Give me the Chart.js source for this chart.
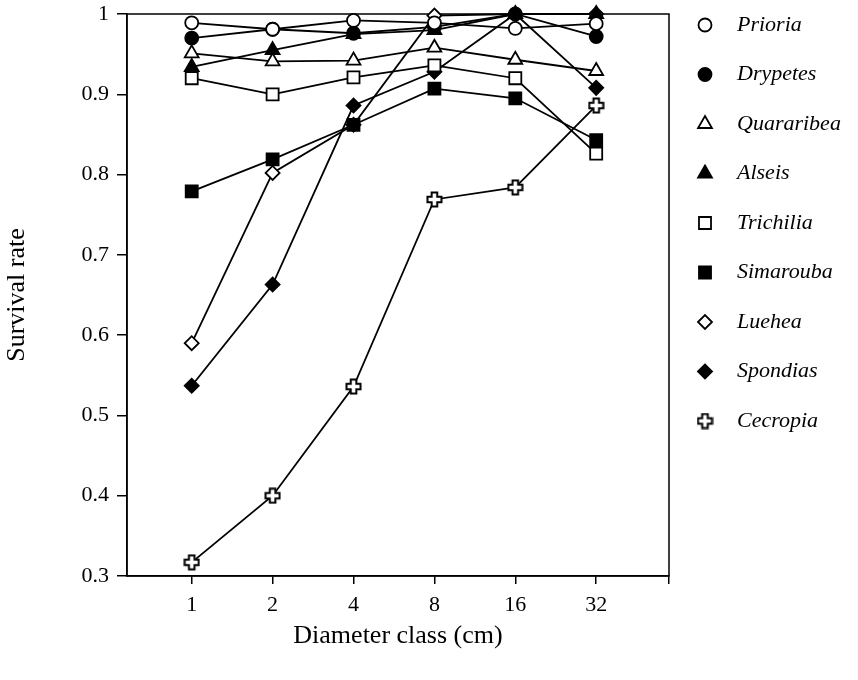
<!DOCTYPE html>
<html lang="en">
<head>
<meta charset="UTF-8">
<title>Survival rate by diameter class</title>
<script src="https://cdn.jsdelivr.net/npm/chart.js"></script>
<style>
  body { margin: 0; background: #fff; }
  #wrap { width: 858px; height: 680px; }
</style>
</head>
<body>
<div id="wrap"><canvas id="survivalChart" width="858" height="680"></canvas></div>
<script>
// diameter classes (cm) and y ticks
const diameterClasses = ['1', '2', '4', '8', '16', '32'];
const yTickValues = [0.3, 0.4, 0.5, 0.6, 0.7, 0.8, 0.9, 1];
const yTickLabels = ['0.3', '0.4', '0.5', '0.6', '0.7', '0.8', '0.9', '1'];

// survival rate per species, one value per diameter class
const speciesNames = ['Prioria', 'Drypetes', 'Quararibea', 'Alseis', 'Trichilia',
                      'Simarouba', 'Luehea', 'Spondias', 'Cecropia'];
const prioria    = [0.989, 0.981, 0.992, 0.989, 0.982, 0.988];
const drypetes   = [0.970, 0.981, 0.976, 0.984, 1.000, 0.972];
const quararibea = [0.951, 0.941, 0.942, 0.958, 0.943, 0.929];
const alseis     = [0.934, 0.955, 0.975, 0.980, 1.000, 1.000];
const trichilia  = [0.920, 0.900, 0.921, 0.936, 0.920, 0.826];
const simarouba  = [0.779, 0.819, 0.862, 0.907, 0.895, 0.843];
const luehea     = [0.590, 0.802, 0.862, 0.998, 1.000, 1.000];
const spondias   = [0.537, 0.663, 0.886, 0.928, 1.000, 0.908];
const cecropia   = [0.317, 0.400, 0.536, 0.769, 0.784, 0.886];

const seriesValues = [prioria, drypetes, quararibea, alseis, trichilia,
                      simarouba, luehea, spondias, cecropia];

// open "plus" marker used for Cecropia
function makeCross() {
    const c = document.createElement('canvas');
    c.width = 17; c.height = 17;
    const g = c.getContext('2d');
    const m = 8.5, a = 2.8, l = 7;
    g.beginPath();
    g.moveTo(m - a, m - l); g.lineTo(m + a, m - l); g.lineTo(m + a, m - a);
    g.lineTo(m + l, m - a); g.lineTo(m + l, m + a); g.lineTo(m + a, m + a);
    g.lineTo(m + a, m + l); g.lineTo(m - a, m + l); g.lineTo(m - a, m + a);
    g.lineTo(m - l, m + a); g.lineTo(m - l, m - a); g.lineTo(m - a, m - a);
    g.closePath();
    g.fillStyle = '#fff';
    g.fill();
    g.lineWidth = 2;
    g.strokeStyle = '#000';
    g.stroke();
    return c;
}

const markers = [
    { style: 'circle',   radius: 6.5, fill: '#fff' },
    { style: 'circle',   radius: 6.5, fill: '#000' },
    { style: 'triangle', radius: 8,   fill: '#fff' },
    { style: 'triangle', radius: 8,   fill: '#000' },
    { style: 'rect',     radius: 8.5, fill: '#fff' },
    { style: 'rect',     radius: 8.5, fill: '#000' },
    { style: 'rectRot',  radius: 7,   fill: '#fff' },
    { style: 'rectRot',  radius: 7,   fill: '#000' },
    { style: makeCross(), radius: 8,  fill: '#fff' }
];

const datasets = speciesNames.map((name, i) => ({
    label: name,
    data: seriesValues[i].map((v, j) => ({ x: j, y: v })),
    borderColor: '#000',
    borderWidth: 1.8,
    fill: false,
    tension: 0,
    clip: false,
    pointStyle: markers[i].style,
    pointRadius: markers[i].radius,
    pointHoverRadius: markers[i].radius,
    pointBackgroundColor: markers[i].fill,
    pointBorderColor: '#000',
    pointBorderWidth: 1.8
}));

// closes the plot box on top and right
const frame = {
    id: 'frame',
    beforeDatasetsDraw(chart) {
        const { ctx, chartArea: a } = chart;
        ctx.save();
        ctx.strokeStyle = '#000';
        ctx.lineWidth = 1.5;
        ctx.strokeRect(a.left, a.top, a.right - a.left, a.bottom - a.top);
        ctx.restore();
    }
};

// species key on the right
const speciesKey = {
    id: 'speciesKey',
    afterDraw(chart) {
        const ctx = chart.ctx;
        chart.data.datasets.forEach((ds, i) => {
            const y = 25 + i * 49.5;
            ctx.save();
            ctx.fillStyle = ds.pointBackgroundColor;
            ctx.strokeStyle = '#000';
            ctx.lineWidth = ds.pointBorderWidth;
            Chart.helpers.drawPoint(ctx, {
                pointStyle: ds.pointStyle, radius: ds.pointRadius,
                rotation: 0, borderWidth: ds.pointBorderWidth
            }, 705, y);
            ctx.fillStyle = '#000';
            ctx.font = 'italic 22px "Liberation Serif"';
            ctx.textBaseline = 'middle';
            ctx.fillText(ds.label, 737, y);
            ctx.restore();
        });
    }
};

const serif = '"Liberation Serif", "DejaVu Serif", serif';

new Chart(document.getElementById('survivalChart'), {
    type: 'line',
    data: { datasets },
    options: {
        responsive: false,
        animation: false,
        layout: { padding: { top: 14, right: 189, left: 0, bottom: 0 } },
        plugins: { legend: { display: false }, tooltip: { enabled: false } },
        scales: {
            x: {
                type: 'linear',
                min: -0.8,
                max: 5.9,
                afterBuildTicks: s => {
                    s.ticks = diameterClasses.map((_, i) => ({ value: i })).concat([{ value: 5.9 }]);
                },
                afterFit: s => { s.height = 104; s.paddingLeft = 0; s.paddingRight = 0; },
                ticks: {
                    autoSkip: false,
                    color: '#000',
                    padding: 8,
                    font: { family: serif, size: 22 },
                    callback: (v, i) => diameterClasses[i] ?? ''
                },
                grid: { drawOnChartArea: false, drawTicks: true, tickLength: 8, color: '#000', lineWidth: 1.5 },
                border: { display: true, color: '#000', width: 1.5 },
                title: {
                    display: true,
                    text: 'Diameter class (cm)',
                    color: '#000',
                    font: { family: serif, size: 26 },
                    padding: { top: 0, bottom: 28 }
                }
            },
            y: {
                min: 0.3,
                max: 1,
                afterBuildTicks: s => { s.ticks = yTickValues.map(v => ({ value: v })); },
                afterFit: s => { s.width = 127; s.paddingTop = 0; s.paddingBottom = 0; },
                ticks: {
                    color: '#000',
                    padding: 8,
                    font: { family: serif, size: 22 },
                    callback: (v, i) => yTickLabels[i]
                },
                grid: { drawOnChartArea: false, drawTicks: true, tickLength: 10, color: '#000', lineWidth: 1.5 },
                border: { display: true, color: '#000', width: 1.5 },
                title: {
                    display: true,
                    text: 'Survival rate',
                    color: '#000',
                    font: { family: serif, size: 26 },
                    padding: { top: 2, bottom: 0 }
                }
            }
        }
    },
    plugins: [frame, speciesKey]
});
</script>
</body>
</html>
